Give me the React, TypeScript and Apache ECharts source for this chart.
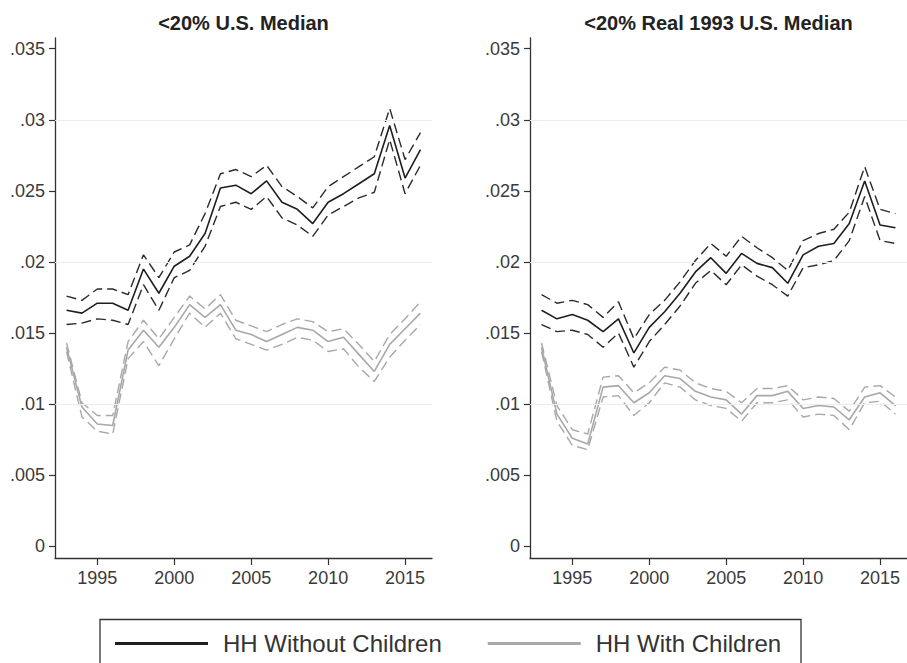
import React, { useEffect, useRef } from "react";
import * as echarts from "echarts";

const years = [1993, 1994, 1995, 1996, 1997, 1998, 1999, 2000, 2001, 2002, 2003, 2004, 2005, 2006, 2007, 2008, 2009, 2010, 2011, 2012, 2013, 2014, 2015, 2016];

const panelTitles = ["<20% U.S. Median", "<20% Real 1993 U.S. Median"];
const seriesNames = ["HH Without Children", "HH With Children"];

// Panel 1: <20% U.S. Median
const noKidsA = [0.0166, 0.0164, 0.0171, 0.0171, 0.0166, 0.0195, 0.0178, 0.0197, 0.0204, 0.0220, 0.0252, 0.0254, 0.0248, 0.0257, 0.0242, 0.0237, 0.0227, 0.0242, 0.0248, 0.0255, 0.0262, 0.0296, 0.0259, 0.0279];
const noKidsAHi = [0.0176, 0.0173, 0.0181, 0.0181, 0.0177, 0.0205, 0.0189, 0.0207, 0.0212, 0.0234, 0.0262, 0.0265, 0.0260, 0.0268, 0.0253, 0.0246, 0.0238, 0.0253, 0.0260, 0.0267, 0.0274, 0.0308, 0.0272, 0.0291];
const noKidsALo = [0.0156, 0.0157, 0.0160, 0.0159, 0.0156, 0.0184, 0.0166, 0.0189, 0.0194, 0.0211, 0.0239, 0.0242, 0.0237, 0.0246, 0.0231, 0.0226, 0.0218, 0.0233, 0.0239, 0.0245, 0.0249, 0.0286, 0.0248, 0.0268];
const kidsA = [0.0140, 0.0098, 0.0086, 0.0085, 0.0138, 0.0152, 0.0140, 0.0154, 0.0170, 0.0161, 0.0170, 0.0152, 0.0149, 0.0144, 0.0149, 0.0154, 0.0152, 0.0144, 0.0147, 0.0135, 0.0123, 0.0142, 0.0153, 0.0164];
const kidsAHi = [0.0143, 0.0101, 0.0092, 0.0092, 0.0144, 0.0159, 0.0146, 0.0161, 0.0176, 0.0167, 0.0177, 0.0159, 0.0155, 0.0151, 0.0156, 0.0160, 0.0158, 0.0151, 0.0153, 0.0142, 0.0130, 0.0149, 0.0160, 0.0172];
const kidsALo = [0.0137, 0.0091, 0.0081, 0.0079, 0.0132, 0.0144, 0.0127, 0.0146, 0.0164, 0.0154, 0.0164, 0.0146, 0.0142, 0.0138, 0.0142, 0.0147, 0.0145, 0.0137, 0.0139, 0.0126, 0.0116, 0.0133, 0.0145, 0.0156];

// Panel 2: <20% Real 1993 U.S. Median
const noKidsB = [0.0166, 0.0160, 0.0163, 0.0159, 0.0151, 0.0160, 0.0136, 0.0154, 0.0165, 0.0178, 0.0193, 0.0203, 0.0192, 0.0206, 0.0199, 0.0196, 0.0185, 0.0205, 0.0211, 0.0213, 0.0227, 0.0257, 0.0226, 0.0224];
const noKidsBHi = [0.0177, 0.0171, 0.0173, 0.0170, 0.0161, 0.0172, 0.0146, 0.0163, 0.0173, 0.0186, 0.0201, 0.0213, 0.0204, 0.0218, 0.0210, 0.0203, 0.0194, 0.0215, 0.0220, 0.0223, 0.0235, 0.0267, 0.0237, 0.0234];
const noKidsBLo = [0.0156, 0.0151, 0.0152, 0.0149, 0.0140, 0.0150, 0.0126, 0.0144, 0.0156, 0.0169, 0.0185, 0.0194, 0.0184, 0.0198, 0.0190, 0.0184, 0.0176, 0.0196, 0.0198, 0.0201, 0.0215, 0.0246, 0.0215, 0.0213];
const kidsB = [0.0140, 0.0093, 0.0076, 0.0072, 0.0112, 0.0113, 0.0101, 0.0108, 0.0120, 0.0118, 0.0109, 0.0105, 0.0103, 0.0093, 0.0106, 0.0106, 0.0109, 0.0097, 0.0099, 0.0098, 0.0089, 0.0105, 0.0108, 0.0099];
const kidsBHi = [0.0143, 0.0099, 0.0082, 0.0079, 0.0119, 0.0120, 0.0108, 0.0115, 0.0126, 0.0124, 0.0115, 0.0111, 0.0109, 0.0101, 0.0111, 0.0111, 0.0113, 0.0103, 0.0105, 0.0104, 0.0095, 0.0112, 0.0113, 0.0105];
const kidsBLo = [0.0137, 0.0088, 0.0071, 0.0068, 0.0105, 0.0106, 0.0092, 0.0101, 0.0115, 0.0112, 0.0103, 0.0099, 0.0097, 0.0088, 0.0101, 0.0101, 0.0103, 0.0091, 0.0093, 0.0092, 0.0082, 0.0101, 0.0102, 0.0093];

const xTicks = [1995, 2000, 2005, 2010, 2015];
const xTickLabels = ["1995", "2000", "2005", "2010", "2015"];
const yTicks = [0, 0.005, 0.01, 0.015, 0.02, 0.025, 0.03, 0.035];
const yTickLabels = ["0", ".005", ".01", ".015", ".02", ".025", ".03", ".035"];
const gridValues = [0.005, 0.01, 0.015, 0.02, 0.025, 0.03];

const FONT = '"Liberation Sans", Arial, Helvetica, sans-serif';
const BLACK = "#1e1e1e";
const GRAY = "#a8a8a8";

const panels = [
  { noKids: noKidsA, noKidsHi: noKidsAHi, noKidsLo: noKidsALo, kids: kidsA, kidsHi: kidsAHi, kidsLo: kidsALo },
  { noKids: noKidsB, noKidsHi: noKidsBHi, noKidsLo: noKidsBLo, kids: kidsB, kidsHi: kidsBHi, kidsLo: kidsBLo },
];

const pairs = (vals: number[]) => years.map((y, i) => [y, vals[i]]);

const lookup = (ticks: number[], labels: string[]) => (v: number) => {
  const k = ticks.findIndex((t) => Math.abs(t - v) < 1e-9);
  return k >= 0 ? labels[k] : "";
};

export default function App() {
  const ref = useRef<HTMLDivElement>(null);
  useEffect(() => {
    if (!ref.current) return;
    const chart = echarts.init(ref.current, undefined, { renderer: "svg" });
    const gridLefts = [55, 530];
    const xMin = 1992.25;
    const xMax = 2016.75;
    const yMin = -0.00082;
    const yMax = 0.03575;

    const series: any[] = [];
    panels.forEach((p, i) => {
      const base = { type: "line", xAxisIndex: i, yAxisIndex: i, showSymbol: false, symbol: "none", silent: true };
      series.push({
        ...base,
        name: "grid" + i,
        data: pairs(p.noKids),
        lineStyle: { opacity: 0 },
        itemStyle: { opacity: 0 },
        z: 1,
        markLine: {
          silent: true,
          symbol: ["none", "none"],
          label: { show: false },
          lineStyle: { color: "#e6eef1", type: "solid", width: 1 },
          data: gridValues.map((v) => ({ yAxis: v })),
        },
      });
      const dash = [10, 5];
      series.push({ ...base, name: seriesNames[1] + " upper", data: pairs(p.kidsHi), z: 2, lineStyle: { color: GRAY, width: 1.4, type: dash }, itemStyle: { color: GRAY } });
      series.push({ ...base, name: seriesNames[1] + " lower", data: pairs(p.kidsLo), z: 2, lineStyle: { color: GRAY, width: 1.4, type: dash }, itemStyle: { color: GRAY } });
      series.push({ ...base, name: seriesNames[1], data: pairs(p.kids), z: 3, lineStyle: { color: GRAY, width: 1.6 }, itemStyle: { color: GRAY } });
      series.push({ ...base, name: seriesNames[0] + " upper", data: pairs(p.noKidsHi), z: 4, lineStyle: { color: "#2a2a2a", width: 1.4, type: dash }, itemStyle: { color: "#2a2a2a" } });
      series.push({ ...base, name: seriesNames[0] + " lower", data: pairs(p.noKidsLo), z: 4, lineStyle: { color: "#2a2a2a", width: 1.4, type: dash }, itemStyle: { color: "#2a2a2a" } });
      series.push({ ...base, name: seriesNames[0], data: pairs(p.noKids), z: 5, lineStyle: { color: BLACK, width: 1.6 }, itemStyle: { color: BLACK } });
    });

    const option: any = {
      animation: false,
      backgroundColor: "#ffffff",
      grid: gridLefts.map((l) => ({ left: l, top: 38, width: 377, height: 520, containLabel: false })),
      xAxis: gridLefts.map((_, i) => ({
        type: "value",
        gridIndex: i,
        min: xMin,
        max: xMax,
        axisLine: { show: true, onZero: false, lineStyle: { color: "#333", width: 1.3 } },
        axisTick: { show: true, length: 7, customValues: xTicks, lineStyle: { color: "#333", width: 1.2 } },
        axisLabel: { customValues: xTicks, fontSize: 18, fontFamily: FONT, color: "#3a3a3a", margin: 11, formatter: lookup(xTicks, xTickLabels) },
        splitLine: { show: false },
      })),
      yAxis: gridLefts.map((_, i) => ({
        type: "value",
        gridIndex: i,
        min: yMin,
        max: yMax,
        axisLine: { show: true, onZero: false, lineStyle: { color: "#333", width: 1.3 } },
        axisTick: { show: true, length: 6, customValues: yTicks, lineStyle: { color: "#333", width: 1.2 } },
        axisLabel: {
          customValues: yTicks,
          fontSize: 18,
          fontFamily: FONT,
          color: "#3a3a3a",
          margin: 10,
          formatter: lookup(yTicks, yTickLabels),
        },
        splitLine: { show: false },
      })),
      legend: {
        data: seriesNames,
        left: 110,
        top: 626,
        icon: "rect",
        itemWidth: 93,
        itemHeight: 3,
        itemGap: 46,
        selectedMode: false,
        textStyle: { fontSize: 24, fontFamily: FONT, color: "#333", padding: [0, 0, 0, 10], lineHeight: 25 },
      },
      graphic: [
        {
          type: "text",
          x: 243.5,
          y: 23,
          style: { text: panelTitles[0], fontSize: 20, fontWeight: "bold", fontFamily: FONT, fill: "#222", align: "center", verticalAlign: "middle" },
        },
        {
          type: "text",
          x: 718.5,
          y: 23,
          style: { text: panelTitles[1], fontSize: 20, fontWeight: "bold", fontFamily: FONT, fill: "#222", align: "center", verticalAlign: "middle" },
        },
        {
          type: "rect",
          shape: { x: 100, y: 619.5, width: 701, height: 70 },
          style: { fill: "none", stroke: "#333", lineWidth: 1.3 },
        },
      ],
      series,
    };
    chart.setOption(option);
    return () => chart.dispose();
  }, []);
  return <div ref={ref} style={{ position: "fixed", left: 0, top: 0, width: 907, height: 663, background: "#fff" }} />;
}
